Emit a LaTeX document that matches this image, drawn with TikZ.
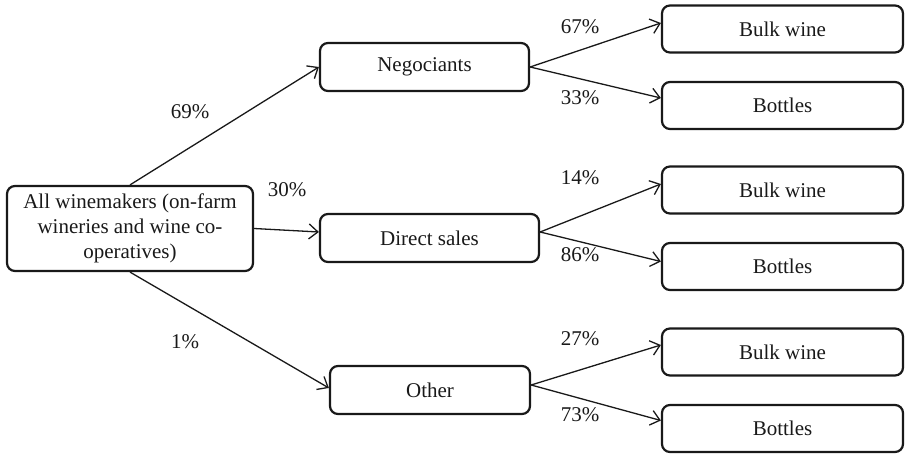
\documentclass[tikz,border=0pt]{standalone}
\usepackage{fontspec}
\setmainfont{Liberation Serif}
\usetikzlibrary{arrows.meta}
\begin{document}
\begin{tikzpicture}[x=1pt,y=-1pt,
  box/.style={draw=black!90, line width=2.2pt, rounded corners=8pt, inner sep=0pt,
    font=\fontsize{21}{25}\selectfont, align=center, text=black!90},
  endbox/.style={box, minimum width=241pt, minimum height=47pt},
  midbox/.style={box, minimum height=48pt},
  conn/.style={line width=1.3pt, draw=black!90, -{Straight Barb[length=9pt,width=15pt]}},
  pct/.style={font=\fontsize{21}{25}\selectfont, text=black!90, inner sep=0pt}]
\useasboundingbox (0,0) rectangle (907,454);

\node[box, minimum width=246pt, minimum height=85pt] (all) at (130,228.5)
  {All winemakers (on-farm\\wineries and wine co-\\operatives)};

\node[midbox, minimum width=209pt] (neg) at (424.5,67) {Negociants};
\node[midbox, minimum width=219pt] (direct) at (429.5,238) {Direct sales};
\node[midbox, minimum width=200pt] (other) at (430,390) {Other};

\node[endbox] (bulk1) at (782.5,29) {Bulk wine};
\node[endbox] (bott1) at (782.5,105.5) {Bottles};
\node[endbox] (bulk2) at (782.5,190) {Bulk wine};
\node[endbox] (bott2) at (782.5,266.5) {Bottles};
\node[endbox] (bulk3) at (782.5,352) {Bulk wine};
\node[endbox] (bott3) at (782.5,428.5) {Bottles};

\draw[conn] (all.north) -- (neg.west);
\draw[conn] (all.east) -- ([yshift=6pt]direct.west);
\draw[conn] (all.south) -- ([yshift=2pt]other.west);

\draw[conn] (neg.east) -- ([yshift=6pt]bulk1.west);
\draw[conn] (neg.east) -- ([yshift=7.5pt]bott1.west);
\draw[conn] ([yshift=6pt]direct.east) -- ([yshift=6pt]bulk2.west);
\draw[conn] ([yshift=6pt]direct.east) -- ([yshift=5pt]bott2.west);
\draw[conn] ([yshift=5pt]other.east) -- ([yshift=7pt]bulk3.west);
\draw[conn] ([yshift=5pt]other.east) -- ([yshift=8pt]bott3.west);

\node[pct] (p69) at (190,112) {69\%};
\node[pct] (p30) at (287,190) {30\%};
\node[pct] (p1) at (185,342) {1\%};
\node[pct] (p67) at (580,27) {67\%};
\node[pct] (p33) at (580,98) {33\%};
\node[pct] (p14) at (580,178) {14\%};
\node[pct] (p86) at (580,255) {86\%};
\node[pct] (p27) at (580,339) {27\%};
\node[pct] (p73) at (580,415) {73\%};
\end{tikzpicture}
\end{document}
